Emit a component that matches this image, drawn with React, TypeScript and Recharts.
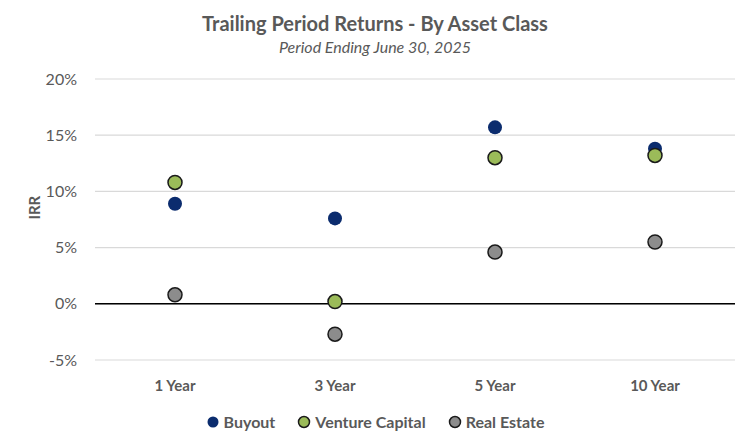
import { ComposedChart, Scatter, XAxis, YAxis, CartesianGrid, ReferenceLine } from 'recharts';

const periods = ['1 Year', '3 Year', '5 Year', '10 Year'];
const buyout = [8.9, 7.6, 15.7, 13.8];
const ventureCapital = [10.8, 0.2, 13.0, 13.2];
const realEstate = [0.8, -2.7, 4.6, 5.5];
const yTicks = [-5, 0, 5, 10, 15, 20];

const series = [
  { key: 'buyout', name: 'Buyout', fill: '#0B2C6E', stroke: 'none' },
  { key: 'ventureCapital', name: 'Venture Capital', fill: '#9BBB59', stroke: '#1a1a1a' },
  { key: 'realEstate', name: 'Real Estate', fill: '#8C8C8C', stroke: '#1a1a1a' },
];

const data = periods.map((period, i) => ({
  period,
  buyout: buyout[i],
  ventureCapital: ventureCapital[i],
  realEstate: realEstate[i],
}));

const FONT = 'Lato, "Open Sans", sans-serif';
const TEXT = '#595959';

function dot(fill: string, stroke: string) {
  return (props: any) => {
    const { cx, cy } = props;
    if (cx == null || cy == null) return <g />;
    return <circle cx={cx} cy={cy} r={7} fill={fill} stroke={stroke} strokeWidth={stroke === 'none' ? 0 : 1.5} />;
  };
}

export default function App() {
  return (
    <div style={{ position: 'absolute', left: 0, top: 0, width: 750, height: 445, background: '#fff', fontFamily: FONT }}>
      <div style={{ position: 'absolute', top: 11, width: 750, textAlign: 'center', color: TEXT, fontWeight: 700, fontSize: 20 }}>
        Trailing Period Returns - By Asset Class
      </div>
      <div style={{ position: 'absolute', top: 37, width: 750, textAlign: 'center', color: TEXT, fontStyle: 'italic', fontSize: 16 }}>
        Period Ending June 30, 2025
      </div>
      <ComposedChart width={750} height={445} data={data} margin={{ top: 79, right: 15, bottom: 45, left: 0 }}>
        <CartesianGrid horizontal vertical={false} stroke="#d9d9d9" strokeWidth={1.2} />
        <XAxis
          dataKey="period"
          scale="band"
          axisLine={false}
          tickLine={false}
          height={40}
          tick={{ fill: TEXT, fontSize: 15, fontFamily: FONT, fontWeight: 700 }}
          tickMargin={14}
        />
        <YAxis
          type="number"
          domain={[-5, 20]}
          ticks={yTicks}
          width={95}
          axisLine={false}
          tickLine={false}
          tickFormatter={(v: number) => `${v}%`}
          tick={{ fill: TEXT, fontSize: 16, fontFamily: FONT }}
          tickMargin={12}
          label={{ value: 'IRR', angle: -90, position: 'insideLeft', offset: 35, fill: TEXT, fontSize: 15, fontWeight: 700, fontFamily: FONT }}
        />
        <ReferenceLine y={0} stroke="#000" strokeWidth={1.5} />
        {series.map((s) => (
          <Scatter key={s.key} dataKey={s.key} name={s.name} shape={dot(s.fill, s.stroke)} isAnimationActive={false} />
        ))}
      </ComposedChart>
      <div style={{ position: 'absolute', top: 412, width: 750, display: 'flex', justifyContent: 'center', gap: 22, color: TEXT, fontSize: 16, fontWeight: 700 }}>
        {series.map((s) => (
          <div key={s.key} style={{ display: 'flex', alignItems: 'center', gap: 4 }}>
            <svg width={14} height={14}>
              <circle cx={7} cy={7} r={5.5} fill={s.fill} stroke={s.stroke} strokeWidth={s.stroke === 'none' ? 0 : 1.5} />
            </svg>
            <span>{s.name}</span>
          </div>
        ))}
      </div>
    </div>
  );
}
